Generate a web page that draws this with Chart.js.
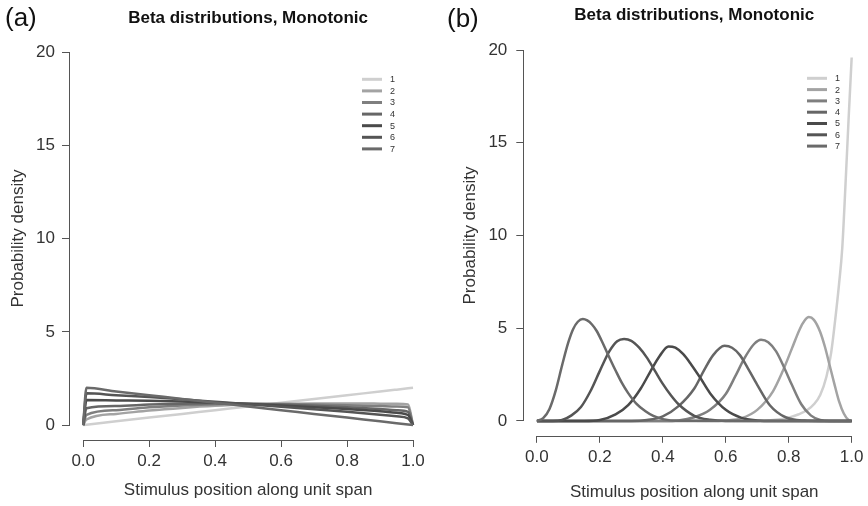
<!DOCTYPE html>
<html>
<head>
<meta charset="utf-8">
<title>Beta distributions, Monotonic</title>
<script src="https://cdn.jsdelivr.net/npm/chart.js@4.4.1/dist/chart.umd.min.js"></script>
<style>
  html, body { margin: 0; padding: 0; background: #ffffff; }
  #wrap { display: flex; width: 868px; height: 506px; }
  canvas { display: block; }
</style>
</head>
<body>
<div id="wrap">
  <canvas id="panelA" width="434" height="506"></canvas>
  <canvas id="panelB" width="434" height="506"></canvas>
</div>
<script>
// ---- shared labels ----
const seriesNames = ['1', '2', '3', '4', '5', '6', '7'];
const seriesColors = ['#cfcfcf', '#a3a3a3', '#7f7f7f', '#666666', '#4a4a4a', '#555555', '#6a6a6a'];
const xTickValues = [0, 0.2, 0.4, 0.6, 0.8, 1.0];
const yTickValues = [0, 5, 10, 15, 20];
const panelTitle = 'Beta distributions, Monotonic';
const xAxisTitle = 'Stimulus position along unit span';
const yAxisTitle = 'Probability density';

// ---- panel (a): densities on a common grid ----
const gridA = [0, 0.01, 0.1, 0.2, 0.3, 0.4, 0.5, 0.6, 0.7, 0.8, 0.9, 0.95, 0.985, 1.0];
const a1 = [0, 0.02, 0.2, 0.4, 0.6, 0.8, 1.0, 1.2, 1.4, 1.6, 1.8, 1.9, 1.97, 2.0];
const a2 = [0, 0.3, 0.6, 0.78, 0.92, 1.03, 1.1, 1.14, 1.16, 1.16, 1.15, 1.14, 1.1, 0];
const a3 = [0, 0.55, 0.8, 0.95, 1.05, 1.12, 1.14, 1.13, 1.1, 1.06, 1.02, 1.0, 0.95, 0];
const a4 = [0, 0.9, 1.02, 1.1, 1.15, 1.17, 1.15, 1.1, 1.03, 0.95, 0.86, 0.8, 0.71, 0];
const a5 = [0, 1.34, 1.32, 1.3, 1.26, 1.2, 1.13, 1.05, 0.96, 0.86, 0.74, 0.66, 0.54, 0];
const a6 = [0, 1.7, 1.6, 1.5, 1.38, 1.25, 1.12, 0.98, 0.85, 0.71, 0.56, 0.47, 0.36, 0];
const a7 = [0, 2.0, 1.8, 1.6, 1.4, 1.2, 1.0, 0.8, 0.6, 0.4, 0.2, 0.1, 0.03, 0];

// ---- panel (b): each density with its own sample positions ----
const b1x = [0, 0.7, 0.75, 0.8, 0.83, 0.86, 0.88, 0.9, 0.92, 0.935, 0.95, 0.96, 0.97, 0.98, 0.99, 1.0];
const b1y = [0, 0, 0.05, 0.18, 0.35, 0.6, 0.9, 1.4, 2.4, 3.7, 5.8, 7.4, 9.3, 12.6, 16.2, 19.6];
const b2x = [0, 0.55, 0.6, 0.65, 0.7, 0.75, 0.78, 0.81, 0.835, 0.85, 0.864, 0.88, 0.9, 0.915, 0.93, 0.945, 0.96, 0.975, 0.99, 1.0];
const b2y = [0, 0, 0.03, 0.15, 0.6, 1.6, 2.65, 3.9, 4.95, 5.4, 5.6, 5.45, 4.8, 4.0, 3.0, 2.0, 1.05, 0.4, 0.05, 0];
const b3x = [0, 0.4, 0.45, 0.5, 0.55, 0.6, 0.63, 0.66, 0.69, 0.712, 0.735, 0.76, 0.785, 0.81, 0.84, 0.87, 0.9, 0.93, 1.0];
const b3y = [0, 0, 0.03, 0.2, 0.6, 1.45, 2.4, 3.4, 4.15, 4.38, 4.25, 3.75, 2.9, 1.95, 0.9, 0.3, 0.05, 0, 0];
const b4x = [0, 0.3, 0.35, 0.4, 0.45, 0.5, 0.53, 0.56, 0.596, 0.62, 0.645, 0.67, 0.7, 0.74, 0.79, 0.85, 0.9, 1.0];
const b4y = [0, 0, 0.05, 0.25, 0.8, 1.75, 2.7, 3.55, 4.05, 3.95, 3.55, 2.85, 1.95, 0.85, 0.2, 0.02, 0, 0];
const b5x = [0, 0.15, 0.2, 0.25, 0.29, 0.33, 0.36, 0.39, 0.418, 0.44, 0.465, 0.49, 0.52, 0.55, 0.6, 0.65, 0.7, 0.75, 1.0];
const b5y = [0, 0, 0.05, 0.35, 0.85, 1.75, 2.65, 3.5, 4.02, 3.95, 3.6, 3.05, 2.3, 1.5, 0.6, 0.17, 0.03, 0, 0];
const b6x = [0, 0.05, 0.08, 0.11, 0.14, 0.17, 0.2, 0.23, 0.255, 0.277, 0.3, 0.325, 0.35, 0.375, 0.4, 0.425, 0.45, 0.5, 0.55, 0.6, 1.0];
const b6y = [0, 0, 0.05, 0.3, 0.75, 1.6, 2.7, 3.75, 4.3, 4.42, 4.32, 3.95, 3.4, 2.7, 2.0, 1.4, 0.9, 0.28, 0.06, 0, 0];
const b7x = [0, 0.02, 0.04, 0.06, 0.08, 0.1, 0.115, 0.13, 0.146, 0.16, 0.175, 0.19, 0.205, 0.22, 0.235, 0.25, 0.27, 0.29, 0.315, 0.345, 0.37, 0.4, 0.45, 1.0];
const b7y = [0, 0.15, 0.65, 1.65, 3.0, 4.25, 4.95, 5.35, 5.5, 5.42, 5.2, 4.85, 4.35, 3.8, 3.25, 2.72, 2.05, 1.5, 0.95, 0.52, 0.27, 0.1, 0.01, 0];

const FONT = '"Liberation Sans", Arial, Helvetica, sans-serif';

function toPoints(xs, ys) {
  return xs.map((x, i) => ({ x: x, y: ys[i] }));
}

function makeDatasets(pairs) {
  return pairs.map((p, i) => ({
    label: seriesNames[i],
    data: toPoints(p[0], p[1]),
    borderColor: seriesColors[i],
    backgroundColor: seriesColors[i],
    borderWidth: 2.5,
    pointRadius: 0,
    fill: false,
    cubicInterpolationMode: 'monotone',
    order: seriesNames.length - 1 - i
  }));
}

// R-style axis lines that only span the tick range
const rAxes = {
  id: 'rAxes',
  afterDraw(chart) {
    const { ctx, chartArea } = chart;
    const xs = chart.scales.x, ys = chart.scales.y;
    ctx.save();
    ctx.strokeStyle = '#555555';
    ctx.lineWidth = 1;
    ctx.beginPath();
    const yb = Math.round(chartArea.bottom) + 0.5;
    ctx.moveTo(xs.getPixelForValue(xTickValues[0]), yb);
    ctx.lineTo(xs.getPixelForValue(xTickValues[xTickValues.length - 1]), yb);
    const xl = Math.round(chartArea.left) - 0.5;
    ctx.moveTo(xl, ys.getPixelForValue(yTickValues[0]));
    ctx.lineTo(xl, ys.getPixelForValue(yTickValues[yTickValues.length - 1]));
    ctx.stroke();
    ctx.restore();
  }
};

// Panel letter, main title and the line legend
const panelText = {
  id: 'panelText',
  afterDraw(chart, args, o) {
    const { ctx, chartArea } = chart;
    ctx.save();
    ctx.fillStyle = '#111111';
    ctx.textBaseline = 'middle';
    ctx.textAlign = 'left';
    ctx.font = '26px ' + FONT;
    ctx.fillText(o.letter, o.letterX, o.letterY);

    ctx.textAlign = 'center';
    ctx.font = 'bold 17px ' + FONT;
    ctx.fillText(panelTitle, (chartArea.left + chartArea.right) / 2, o.titleY);

    ctx.font = '9px ' + FONT;
    ctx.textAlign = 'left';
    seriesNames.forEach((name, i) => {
      const y = o.legendY + i * o.legendStep;
      ctx.strokeStyle = seriesColors[i];
      ctx.lineWidth = 3;
      ctx.beginPath();
      ctx.moveTo(o.legendX, y);
      ctx.lineTo(o.legendX + 20, y);
      ctx.stroke();
      ctx.fillStyle = '#333333';
      ctx.fillText(name, o.legendX + 28, y + 0.5);
    });
    ctx.restore();
  }
};

function makeOptions(cfg) {
  return {
    responsive: false,
    animation: false,
    events: [],
    layout: { padding: { left: 0, right: cfg.padRight, top: cfg.padTop, bottom: 0 } },
    plugins: {
      legend: { display: false },
      tooltip: { enabled: false },
      panelText: cfg.text
    },
    scales: {
      x: {
        type: 'linear',
        min: -0.04,
        max: 1.04,
        afterBuildTicks: s => { s.ticks = xTickValues.map(v => ({ value: v })); },
        afterFit: s => { s.height = cfg.xAxisHeight; },
        grid: { display: true, drawOnChartArea: false, drawTicks: true, tickLength: 7, color: '#555555', lineWidth: 1 },
        border: { display: false },
        ticks: {
          color: '#333333',
          font: { family: FONT, size: 17 },
          padding: 4.5,
          maxRotation: 0,
          autoSkip: false,
          callback: v => Number(v).toFixed(1)
        },
        title: {
          display: true,
          text: xAxisTitle,
          color: '#333333',
          font: { family: FONT, size: 17 },
          padding: { top: 0, bottom: cfg.xTitlePad }
        }
      },
      y: {
        type: 'linear',
        min: -0.8,
        max: 20.8,
        afterBuildTicks: s => { s.ticks = yTickValues.map(v => ({ value: v })); },
        afterFit: s => { s.width = cfg.yAxisWidth; },
        grid: { display: true, drawOnChartArea: false, drawTicks: true, tickLength: 8, color: '#555555', lineWidth: 1 },
        border: { display: false },
        ticks: {
          color: '#333333',
          font: { family: FONT, size: 17 },
          padding: cfg.yTickPad,
          autoSkip: false,
          callback: v => String(v)
        },
        title: {
          display: true,
          text: yAxisTitle,
          color: '#333333',
          font: { family: FONT, size: 17 },
          padding: { top: cfg.yTitlePad, bottom: 0 }
        }
      }
    }
  };
}

new Chart(document.getElementById('panelA'), {
  type: 'line',
  data: {
    datasets: makeDatasets([
      [gridA, a1], [gridA, a2], [gridA, a3], [gridA, a4], [gridA, a5], [gridA, a6], [gridA, a7]
    ])
  },
  options: makeOptions({
    padRight: 7.8, padTop: 37.1, xAxisHeight: 66, yAxisWidth: 70,
    yTickPad: 7, yTitlePad: 8, xTitlePad: 5.8,
    text: { letter: '(a)', letterX: 5, letterY: 19, titleY: 18, legendX: 362, legendY: 79.3, legendStep: 11.6 }
  }),
  plugins: [rAxes, panelText]
});

new Chart(document.getElementById('panelB'), {
  type: 'line',
  data: {
    datasets: makeDatasets([
      [b1x, b1y], [b2x, b2y], [b3x, b3y], [b4x, b4y], [b5x, b5y], [b6x, b6y], [b7x, b7y]
    ])
  },
  options: makeOptions({
    padRight: 0.3, padTop: 35.2, xAxisHeight: 70.2, yAxisWidth: 90.3,
    yTickPad: 9, yTitlePad: 25.8, xTitlePad: 3.8,
    text: { letter: '(b)', letterX: 13, letterY: 20, titleY: 15, legendX: 373, legendY: 78.3, legendStep: 11.3 }
  }),
  plugins: [rAxes, panelText]
});
</script>
</body>
</html>
